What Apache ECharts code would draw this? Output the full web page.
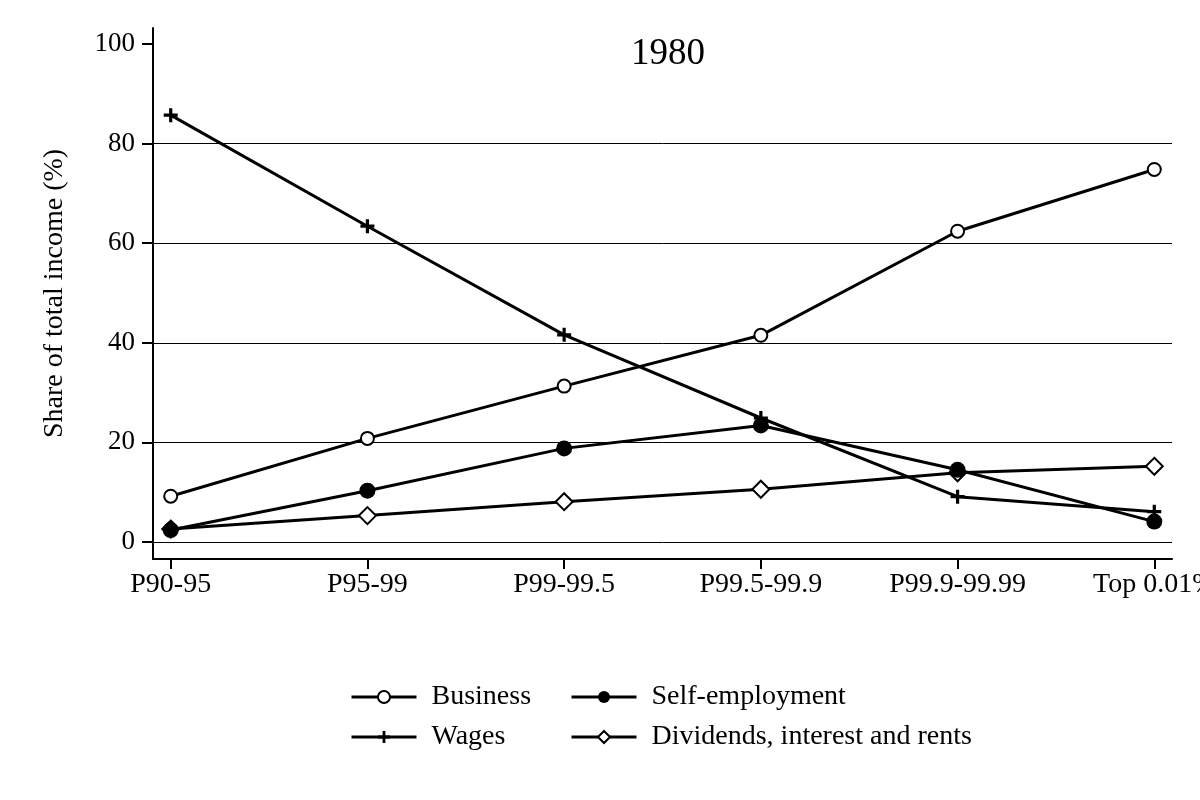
<!DOCTYPE html>
<html>
<head>
<meta charset="utf-8">
<script src="https://cdn.jsdelivr.net/npm/echarts@6/dist/echarts.min.js"></script>
<style>html,body{margin:0;padding:0;background:#fff;}#c{width:1200px;height:800px;}</style>
</head>
<body>
<div id="c"></div>
<script>
var categories = ['P90-95', 'P95-99', 'P99-99.5', 'P99.5-99.9', 'P99.9-99.99', 'Top 0.01%'];
var business = [9.2, 20.8, 31.3, 41.5, 62.4, 74.8];
var selfEmployment = [2.4, 10.3, 18.8, 23.4, 14.5, 4.1];
var wages = [85.7, 63.4, 41.6, 24.9, 9.1, 6.1];
var dividends = [2.6, 5.3, 8.1, 10.6, 13.9, 15.2];
var yTicks = [0, 20, 40, 60, 80, 100];
var title = '1980';

var FONT = '"Liberation Serif", "DejaVu Serif", serif';
var plusPath = 'path://M5,0H8V5H13V8H8V13H5V8H0V5H5Z';

function pairs(arr) { return arr.map(function (v, i) { return [i, v]; }); }
var xIdx = categories.map(function (c, i) { return i; });

var chart = echarts.init(document.getElementById('c'), null, {renderer: 'canvas'});
function mk(name, data, symbol, size, z) {
  return {
    name: name, type: 'line', data: pairs(data), symbol: symbol, symbolSize: size, z: z,
    lineStyle: {color: '#000', width: 3},
    itemStyle: {color: '#000', borderColor: '#000', borderWidth: symbol.indexOf('empty') === 0 ? 3 : 0},
    emphasis: {disabled: true}
  };
}
var legendText = {fontFamily: FONT, fontSize: 28, color: '#000', lineHeight: 28, padding: [0, 0, 0, 10]};
var legendCommon = {orient: 'vertical', top: 683, padding: 0, itemWidth: 65, itemHeight: 15, itemGap: 12,
  textStyle: legendText, lineStyle: {width: 3, color: '#000'}};
chart.setOption({
  animation: false,
  backgroundColor: '#fff',
  title: {text: title, left: 663, top: 31, textAlign: 'center',
    textStyle: {fontFamily: FONT, fontSize: 37, fontWeight: 'normal', color: '#000'}},
  grid: {left: 153, right: 28, top: 28, bottom: 241, containLabel: false, outerBoundsMode: 'none'},
  xAxis: {
    type: 'value', min: -0.09, max: 5.09,
    axisLine: {show: true, onZero: false, lineStyle: {color: '#000', width: 2}},
    axisTick: {show: true, length: 10, lineStyle: {color: '#000', width: 2}, customValues: xIdx},
    axisLabel: {customValues: xIdx, margin: 12, color: '#000', fontFamily: FONT, fontSize: 28,
      formatter: function (v) { return categories[Math.round(v)] || ''; }},
    splitLine: {show: false}
  },
  yAxis: {
    type: 'value', min: -3.41, max: 103.2,
    name: 'Share of total income (%)', nameLocation: 'middle', nameGap: 84,
    nameTextStyle: {fontFamily: FONT, fontSize: 28, color: '#000'},
    axisLine: {show: true, onZero: false, lineStyle: {color: '#000', width: 2}},
    axisTick: {show: true, length: 11, lineStyle: {color: '#000', width: 2}, customValues: yTicks},
    axisLabel: {customValues: yTicks, margin: 18, color: '#000', fontFamily: FONT, fontSize: 27},
    splitLine: {show: true, lineStyle: {color: ['#000', '#000', '#000', '#000', '#000', 'rgba(0,0,0,0)'], width: 1}}
  },
  legend: [
    Object.assign({data: ['Business', 'Wages'], left: 350}, legendCommon),
    Object.assign({data: ['Self-employment', 'Dividends, interest and rents'], left: 570}, legendCommon)
  ],
  series: [
    mk('Business', business, 'emptyCircle', 13, 3),
    mk('Wages', wages, plusPath, 14, 3),
    mk('Dividends, interest and rents', dividends, 'emptyDiamond', 17, 4),
    mk('Self-employment', selfEmployment, 'circle', 16, 5)
  ]
});
</script>
</body>
</html>
